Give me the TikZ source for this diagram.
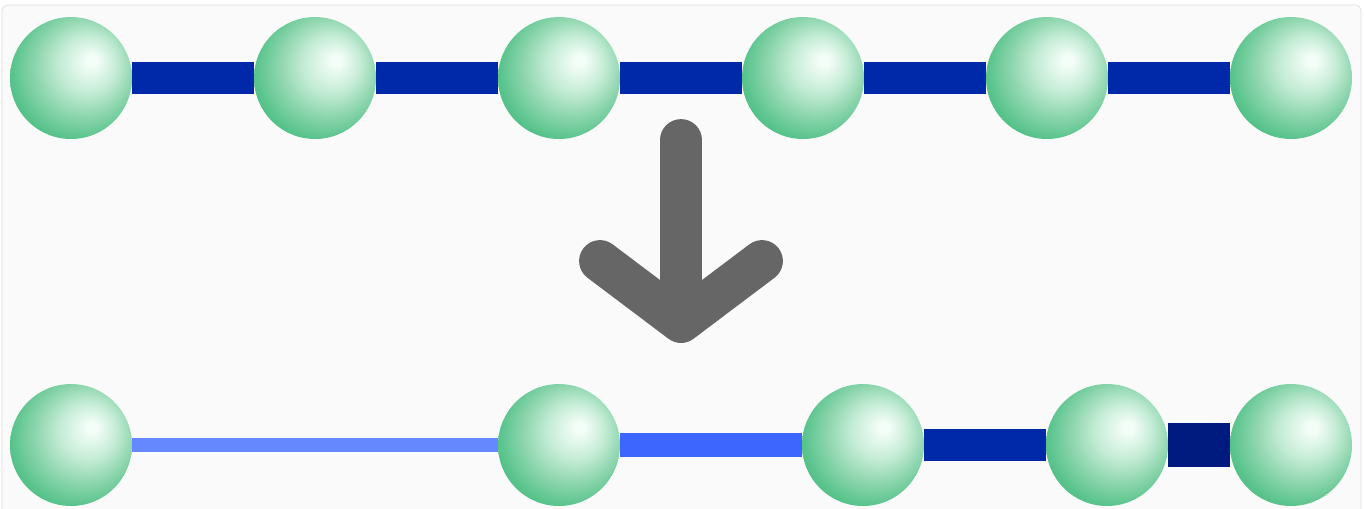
\documentclass[tikz,border=0pt]{standalone}
\usepackage{tikz}

% colours
\definecolor{bondnormal}{HTML}{0029AA}
\definecolor{bondweak}{HTML}{6688FF}
\definecolor{bondhalf}{HTML}{3D66FF}
\definecolor{bondstrong}{HTML}{001B7F}
\definecolor{arrowgray}{HTML}{666666}
\definecolor{panelfill}{HTML}{FAFAFA}
\definecolor{panelline}{HTML}{DEDEDE}
\definecolor{ballhi}{HTML}{F4FEF8}
\definecolor{ballpale}{HTML}{C2EBD4}
\definecolor{ballmid}{HTML}{8ED6AE}
\definecolor{balllow}{HTML}{5AC48D}
\definecolor{balledge}{HTML}{34B471}

% green sphere, light from the upper right
\pgfdeclareradialshading{greenball}{\pgfpoint{9bp}{7.5bp}}{%
  color(0bp)=(ballhi); color(2bp)=(ballhi); color(12bp)=(ballpale);
  color(20bp)=(ballmid); color(28bp)=(balllow); color(37bp)=(balledge);
  color(50bp)=(balledge)}

\tikzset{
  atom/.style={circle, inner sep=0pt, minimum size=2.44cm, shading=greenball},
  bond/.style={line width=18.1pt, bondnormal},
  fatarrow/.style={line width=23.8pt, arrowgray, line cap=round, line join=round}
}

\begin{document}
\begin{tikzpicture}[x=0.02cm, y=-0.02cm]
    \useasboundingbox (0,0) rectangle (1364,508);
    \clip (0,0) rectangle (1364,508);
    \fill[white] (0,0) rectangle (1364,508);
    \draw[panelline, fill=panelfill, rounded corners=3pt] (2,5) rectangle (1361,540);

    % chain before
    \foreach \i in {1,...,6}
        \node[atom] (t\i) at ({71+244*(\i-1)},78) {};
    \foreach \i [evaluate=\i as \j using int(\i+1)] in {1,...,5}
        \draw[bond] (t\i.east) -- (t\j.west);

    % arrow
    \draw[fatarrow] (681,140) -- (681,320);
    \draw[fatarrow] (600,261) -- (681,322) -- (762,261);

    % chain after
    \node[atom] (b1) at (71,445) {};
    \node[atom] (b2) at (559,445) {};
    \node[atom] (b3) at (863,445) {};
    \node[atom] (b4) at (1107,445) {};
    \node[atom] (b5) at (1291,445) {};
    \draw[bond, bondweak, line width=8.5pt] (b1.east) -- (b2.west);
    \draw[bond, bondhalf, line width=13.6pt] (b2.east) -- (b3.west);
    \draw[bond, line width=18.7pt] (b3.east) -- (b4.west);
    \draw[bond, bondstrong, line width=25.5pt] (b4.east) -- (b5.west);

\end{tikzpicture}
\end{document}
